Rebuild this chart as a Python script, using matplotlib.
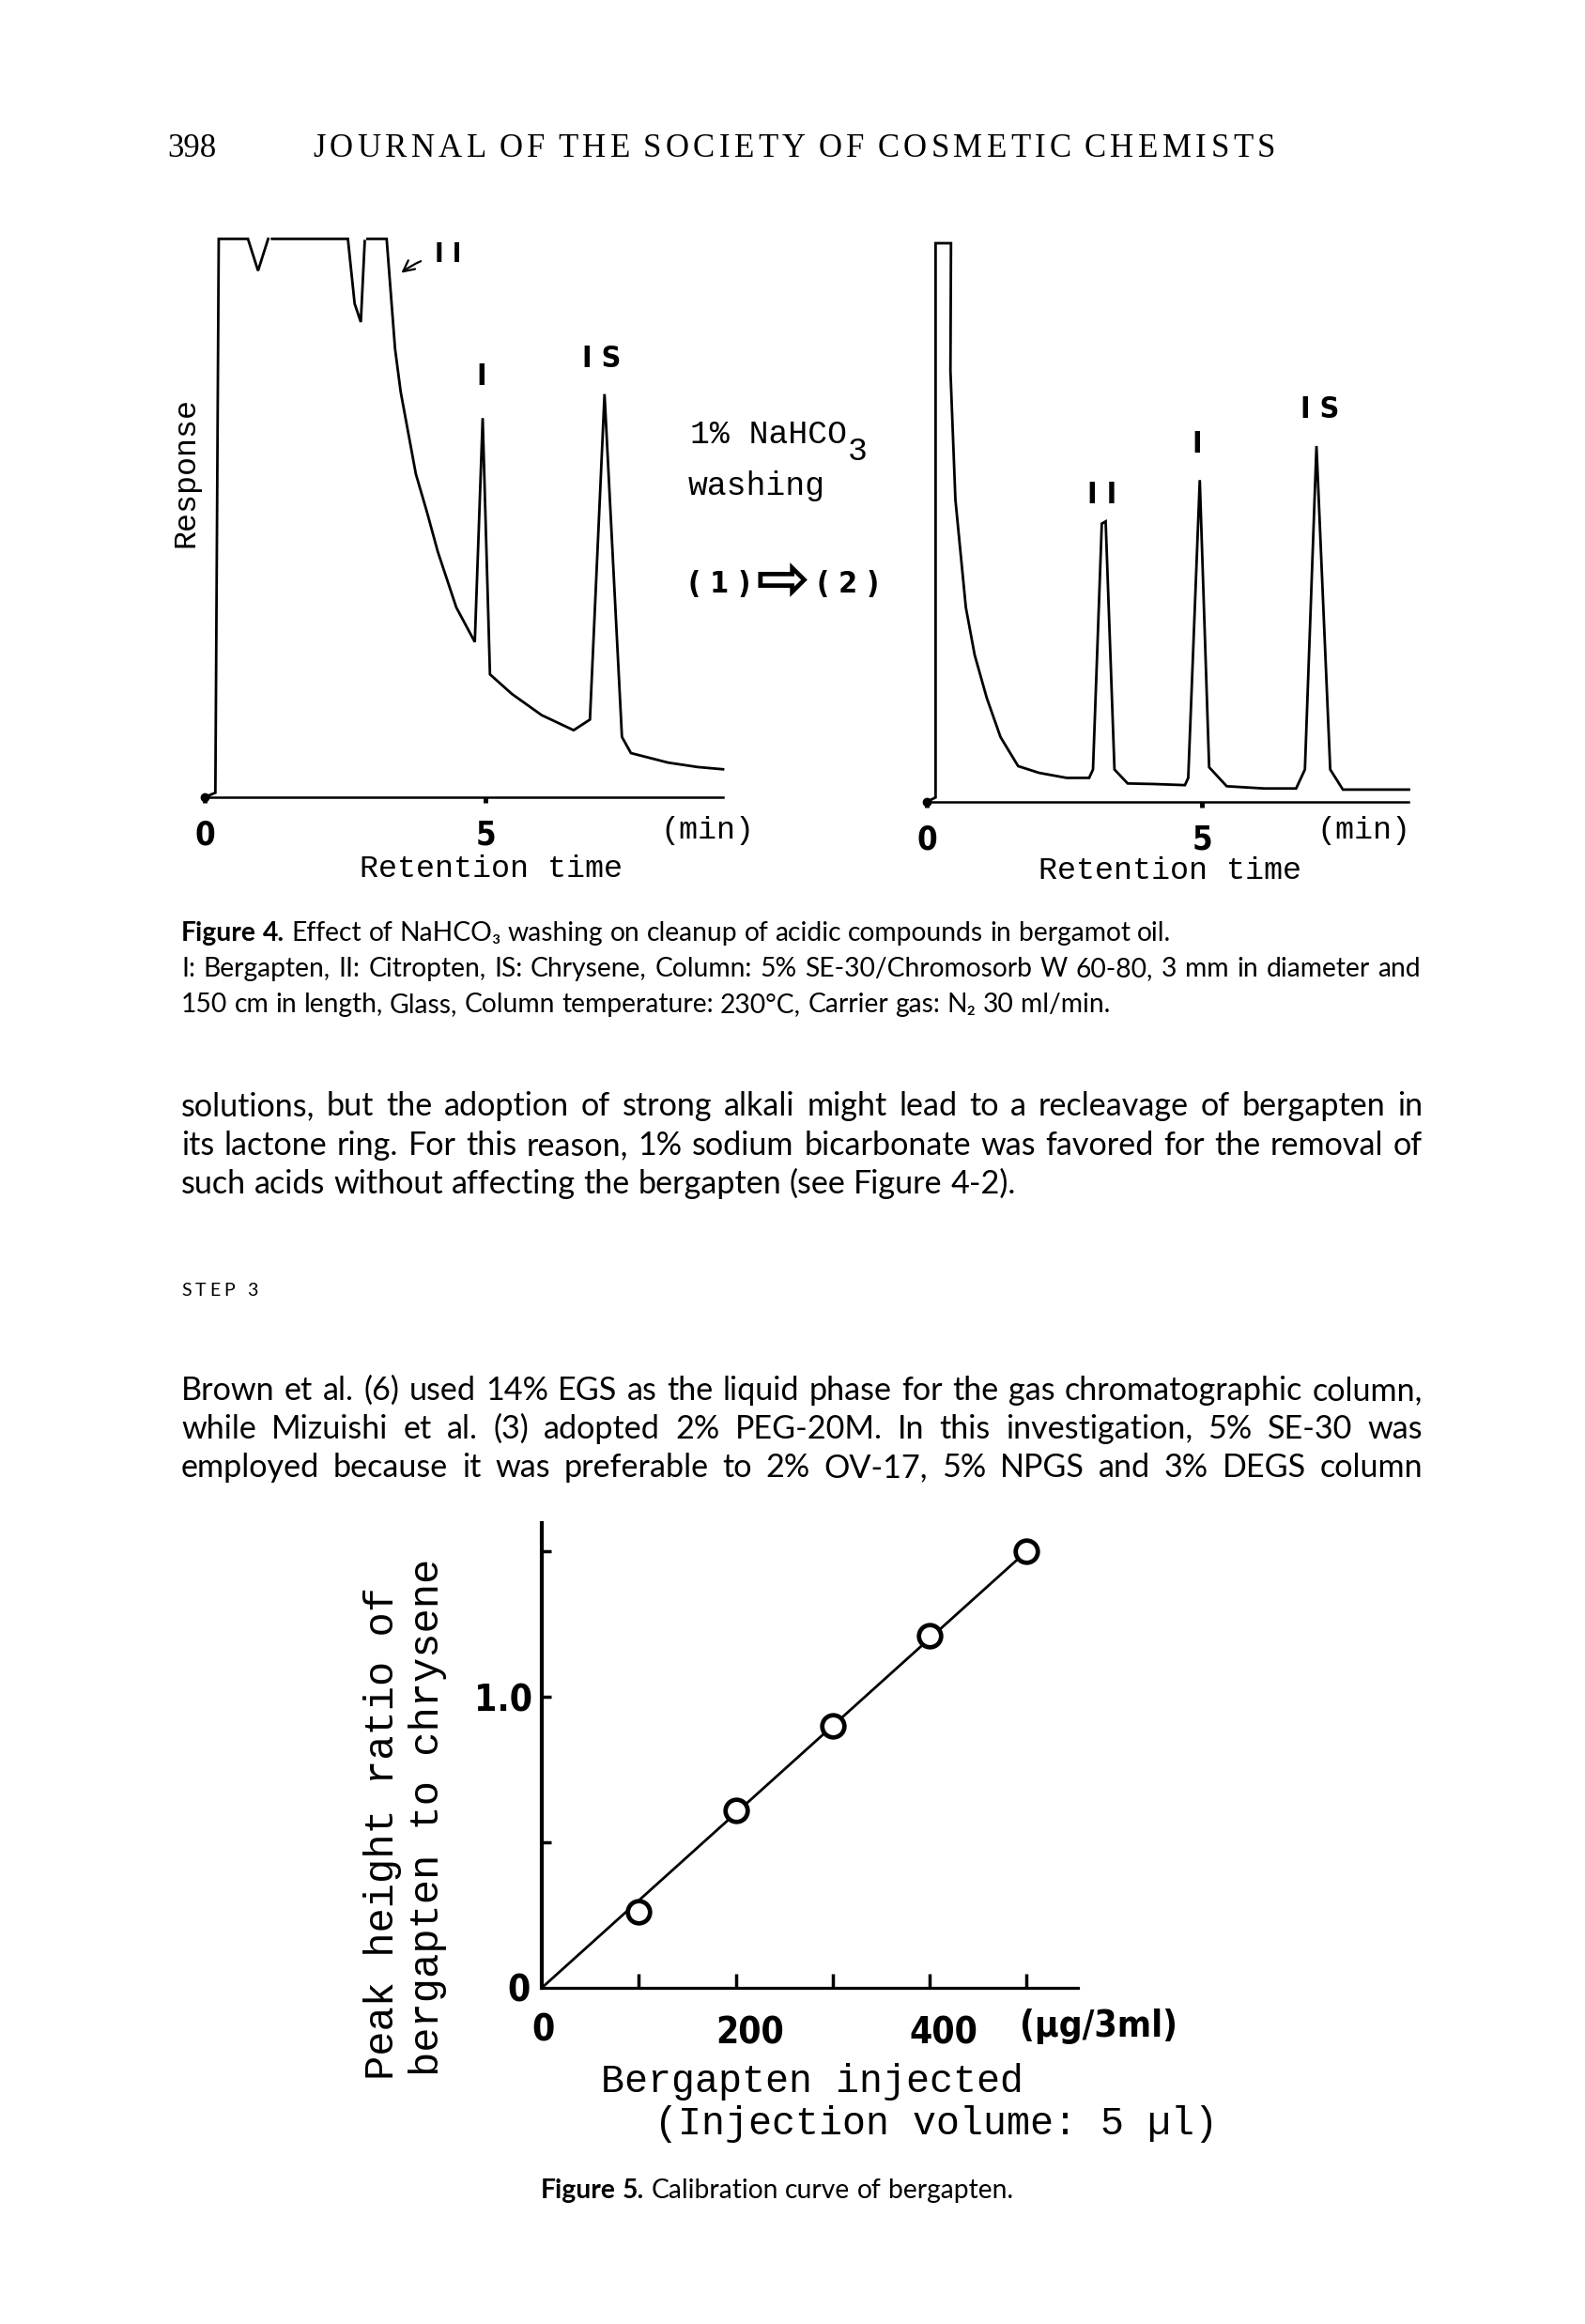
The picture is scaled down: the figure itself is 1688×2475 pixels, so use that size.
import matplotlib
matplotlib.use('Agg')
import matplotlib.pyplot as plt
from matplotlib import font_manager as fm
from matplotlib.transforms import IdentityTransform, ScaledTranslation
import numpy as np

W, H, DPI = 1688, 2475, 100
nan = np.nan

# Figure 4 (1): chromatogram before NaHCO3 washing (min, % of full scale)
t_before = [0.0, 0.19, 0.25, 0.77, 0.95, 1.13, nan, 1.20, 2.55, 2.67, 2.78, 2.85, nan, 2.90,
            3.24, 3.39, 3.49, 3.76, 3.96, 4.15, 4.48, 4.81, 4.95, 5.08, 5.47, 6.00, 6.57,
            6.86, 7.12, 7.43, 7.59, 8.25, 8.78, 9.23]
r_before = [0, 0.8, 100, 100, 94.3, 100, nan, 100, 100, 88.4, 85.1, 99.6, nan, 100,
            100, 80.3, 72.6, 57.9, 51.0, 44.0, 34.0, 27.8, 67.9, 22.0, 18.5, 14.7, 12.0,
            13.9, 72.2, 10.8, 7.9, 6.2, 5.4, 5.0]

# Figure 4 (2): chromatogram after washing
t_after = [0.0, 0.16, 0.16, 0.44, 0.43, 0.52, 0.71, 0.87, 1.09, 1.34, 1.66, 2.04, 2.54, 2.95,
           3.02, 3.18, 3.25, 3.41, 3.65, 4.12, 4.69, 4.75, 4.96, 5.13, 5.45, 6.14, 6.71,
           6.87, 7.08, 7.33, 7.56, 8.76]
r_after = [0, 0.8, 100, 100, 77.2, 54.1, 34.8, 26.3, 18.6, 11.6, 6.4, 5.2, 4.3, 4.3,
           5.8, 49.8, 50.2, 5.8, 3.3, 3.2, 3.0, 4.3, 57.6, 6.2, 2.8, 2.4, 2.4,
           5.8, 63.7, 5.8, 2.2, 2.2]

# peak labels (name, time, label height)
peaks_before = [('I', 4.93, 75.2), ('I S', 7.07, 78.4)]
peaks_after = [('I I', 3.19, 54.8), ('I', 4.91, 64.0), ('I S', 7.15, 70.1)]

# Figure 5: calibration curve
amount = [100, 200, 300, 400, 500]
ratio = [0.26, 0.61, 0.90, 1.21, 1.50]
fit_x = [0, 500]
fit_y = [0, 1.50]

MONO = 'Liberation Mono'
BODY = ['Lato', 'DejaVu Sans']
SERIF = 'Liberation Serif'


def find_narrow_bold():
    # the figure labels use a bold condensed sans; take one if installed
    prefs = ['liberation', 'dejavu', 'roboto', 'noto', 'open']
    hits = []
    for f in fm.fontManager.ttflist:
        tag = (f.name + ' ' + f.fname).lower()
        narrow = ('narrow' in tag or 'condensed' in tag
                  or f.stretch in ('condensed', 'semi-condensed', 'extra-condensed'))
        w = f.weight
        bold = (w in ('bold', 'heavy', 'black', 'semibold', 'demibold')
                or (isinstance(w, int) and w >= 600))
        if narrow and bold and f.style == 'normal' and 'mono' not in tag and 'serif' not in tag.replace('sans', ''):
            rank = next((i for i, p in enumerate(prefs) if p in tag), len(prefs))
            hits.append((rank, f.fname))
    return sorted(hits)[0][1] if hits else None


NARROW = find_narrow_bold()


def nb(size):
    if NARROW:
        return fm.FontProperties(fname=NARROW, size=size)
    return fm.FontProperties(family=['Roboto', 'DejaVu Sans'], weight='bold', size=size)


fig = plt.figure(figsize=(W / DPI, H / DPI), dpi=DPI)
fig.patch.set_facecolor('white')
PX = IdentityTransform()
renderer = fig.canvas.get_renderer()


def box(x0, y0, x1, y1):
    # page pixels, origin top-left -> figure fraction rect
    return [x0 / W, 1 - y1 / H, (x1 - x0) / W, (y1 - y0) / H]


def ptext(x, y, s, **kw):
    return fig.text(x, H - y, s, transform=PX, **kw)


def width(s, **kw):
    t = fig.text(0, 0, s, transform=PX, **kw)
    w = t.get_window_extent(renderer).width
    t.remove()
    return w


def tokens(line, nbold=0):
    return [(w, 'bold' if i < nbold else 'normal') for i, w in enumerate(line.split())]


def natural(toks, size):
    ws = [width(w, fontsize=size, family=BODY, fontweight=wt) for w, wt in toks]
    sp = width('a a', fontsize=size, family=BODY) - width('aa', fontsize=size, family=BODY)
    return ws, sp


def fit_size(lines, target, base=20.0):
    s = min(target / (sum(ws) + sp * (len(ws) - 1))
            for ws, sp in [natural(t, base) for t in lines])
    return base * s * 0.985


def put_words(toks, x0, y, size, x1=None):
    ws, sp = natural(toks, size)
    gap = sp if x1 is None else (x1 - x0 - sum(ws)) / (len(ws) - 1)
    x = x0
    for (w, wt), wd in zip(toks, ws):
        ptext(x, y, w, fontsize=size, family=BODY, fontweight=wt, va='baseline')
        x += wd + gap


def put_tracked(s, x0, x1, y, size, family):
    ws = [width(c, fontsize=size, family=family) if c != ' ' else 0 for c in s]
    sp = width('A A', fontsize=size, family=family) - width('AA', fontsize=size, family=family)
    nsp = s.count(' ')
    track = (x1 - x0 - sum(ws) - nsp * sp) / (len(s) - 1)
    x = x0
    for c, wd in zip(s, ws):
        if c == ' ':
            x += sp + track
            continue
        ptext(x, y, c, fontsize=size, family=family, va='baseline')
        x += wd + track


# ---------------- header ----------------
ptext(178, 167, '398', fontsize=25, family=SERIF, va='baseline')
put_tracked('JOURNAL OF THE SOCIETY OF COSMETIC CHEMISTS', 333, 1358, 167, 25, SERIF)

# ---------------- Figure 4 chromatograms ----------------
ax1 = fig.add_axes(box(218, 254.4, 770, 849))
ax2 = fig.add_axes(box(987, 259, 1500.5, 854))

for ax, t, r, xmax, peaks in [(ax1, t_before, r_before, 9.23, peaks_before),
                              (ax2, t_after, r_after, 8.76, peaks_after)]:
    ax.plot(t, r, color='black', lw=2.0, clip_on=False, solid_joinstyle='miter')
    ax.plot([0], [0], 'o', color='black', ms=6, clip_on=False)
    ax.set_xlim(0, xmax)
    ax.set_ylim(0, 100)
    for side in ['top', 'right', 'left']:
        ax.spines[side].set_visible(False)
    ax.spines['bottom'].set_linewidth(1.8)
    ax.set_yticks([])
    ax.set_xticks([0, 5])
    ax.set_xticklabels(['0', '5'], fontproperties=nb(25))
    ax.tick_params(axis='x', length=4, width=3.5, pad=13, direction='out')
    ax.patch.set_alpha(0)
    for name, x, y in peaks:
        ax.text(x, y, name, ha='center', va='center', fontproperties=nb(23), clip_on=False)

ax1.annotate('I I', xy=(3.50, 93.9), xytext=(4.33, 97.2), ha='center', va='center',
             fontproperties=nb(21), annotation_clip=False,
             arrowprops=dict(arrowstyle='->', color='black', lw=1.6,
                             shrinkA=9, shrinkB=0, connectionstyle='arc3,rad=0.15'))

ptext(198, 503, 'Response', rotation=90, ha='center', va='center', family=MONO, fontsize=24)
for cx, cy, s in [(753, 884, '(min)'), (523, 926, 'Retention time'),
                  (1452, 884, '(min)'), (1246, 928, 'Retention time')]:
    ptext(cx, cy, s, ha='center', va='center', family=MONO, fontsize=24)

# washing annotation between the chromatograms
ptext(735, 472, '1% NaHCO', family=MONO, fontsize=25, va='baseline')
ptext(735 + width('1% NaHCO', family=MONO, fontsize=25) + 1, 490, '3',
      family=MONO, fontsize=25, va='baseline')
ptext(733, 527, 'washing', family=MONO, fontsize=25, va='baseline')
ptext(733, 623, '( 1 )', fontproperties=nb(23), va='center')
ptext(834, 620, '\u21e8', family='DejaVu Sans', fontweight='bold', fontsize=50,
      ha='center', va='center')
ptext(870, 623, '( 2 )', fontproperties=nb(23), va='center')

# ---------------- Figure 4 caption ----------------
cap = [tokens('Figure 4. Effect of NaHCO\u2083 washing on cleanup of acidic compounds in bergamot oil.', 2),
       tokens('I: Bergapten, II: Citropten, IS: Chrysene, Column: 5% SE-30/Chromosorb W 60-80, 3 mm in diameter and'),
       tokens('150 cm in length, Glass, Column temperature: 230\u00b0C, Carrier gas: N\u2082 30 ml/min.')]
cap_size = fit_size([cap[1]], 1513 - 193)
put_words(cap[0], 193, 1002, cap_size)
put_words(cap[1], 193, 1040, cap_size, x1=1513)
put_words(cap[2], 193, 1078, cap_size)

# ---------------- body text ----------------
para1 = ['solutions, but the adoption of strong alkali might lead to a recleavage of bergapten in',
         'its lactone ring. For this reason, 1% sodium bicarbonate was favored for the removal of',
         'such acids without affecting the bergapten (see Figure 4-2).']
para2 = ['Brown et al. (6) used 14% EGS as the liquid phase for the gas chromatographic column,',
         'while Mizuishi et al. (3) adopted 2% PEG-20M. In this investigation, 5% SE-30 was',
         'employed because it was preferable to 2% OV-17, 5% NPGS and 3% DEGS column']
justified = [tokens(l) for l in para1[:2] + para2]
body_size = fit_size(justified, 1515 - 193)
for i, (line, y) in enumerate(zip(para1, [1188, 1230, 1271])):
    put_words(tokens(line), 193, y, body_size, x1=1515 if i < 2 else None)
for line, y in zip(para2, [1491, 1532, 1573]):
    put_words(tokens(line), 193, y, body_size, x1=1515)
put_tracked('STEP 3', 193, 274, 1380, 14, BODY)

# ---------------- Figure 5 calibration ----------------
ax3 = fig.add_axes(box(577, 1622, 1148, 2117))
ax3.plot(fit_x, fit_y, color='black', lw=2.0, clip_on=False)
ax3.plot(amount, ratio, 'o', ms=17, mfc='white', mec='black', mew=3.4, clip_on=False, zorder=3)
ax3.set_xlim(0, 553)
ax3.set_ylim(0, 1.597)
ax3.spines['top'].set_visible(False)
ax3.spines['right'].set_visible(False)
ax3.spines['left'].set_linewidth(3)
ax3.spines['bottom'].set_linewidth(2.3)
ax3.set_xticks([100, 200, 300, 400, 500])
ax3.set_xticklabels(['', '200', '', '400', ''], fontproperties=nb(28))
ax3.set_yticks([0.5, 1.0, 1.5])
ax3.set_yticklabels(['', '1.0', ''], fontproperties=nb(28))
ax3.tick_params(axis='x', direction='in', length=11, width=2.5, pad=21)
ax3.tick_params(axis='y', direction='in', length=7, width=2.5, pad=7)
for lbl in ax3.get_xticklabels():
    lbl.set_transform(lbl.get_transform() + ScaledTranslation(15 / DPI, 0, fig.dpi_scale_trans))

ptext(553, 2120, '0', ha='center', va='center', fontproperties=nb(28))
ptext(578, 2162, '0', ha='center', va='center', fontproperties=nb(28))
ptext(1170, 2158, '(\u00b5g/3ml)', ha='center', va='center', fontproperties=nb(28))

ptext(408, 2215, 'Peak height ratio of', rotation=90, ha='center', va='bottom',
      family=MONO, fontsize=31.5)
ptext(456, 2211, 'bergapten to chrysene', rotation=90, ha='center', va='bottom',
      family=MONO, fontsize=31.5)
ptext(640, 2217, 'Bergapten injected', va='center', family=MONO, fontsize=30)
ptext(697, 2262, '(Injection volume: 5 \u00b5l)', va='center', family=MONO, fontsize=30)

put_words(tokens('Figure 5. Calibration curve of bergapten.', 2), 576, 2341, cap_size)

fig.savefig('out.png', dpi=DPI, facecolor='white')
